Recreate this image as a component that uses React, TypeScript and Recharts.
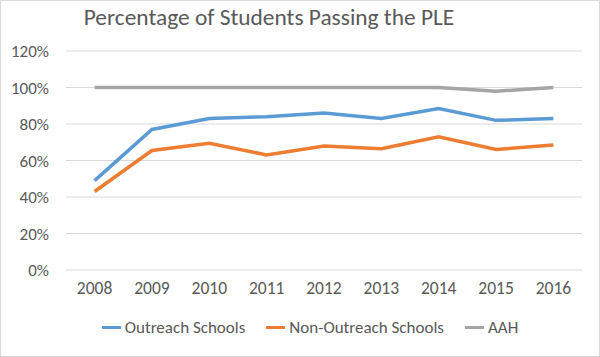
import { LineChart, Line, XAxis, YAxis, CartesianGrid, Legend } from "recharts";

const years = ["2008", "2009", "2010", "2011", "2012", "2013", "2014", "2015", "2016"];
const outreach = [49, 77, 83, 84, 86, 83, 88.5, 82, 83];
const nonOutreach = [43, 65.5, 69.5, 63, 68, 66.5, 73, 66, 68.5];
const aah = [100, 100, 100, 100, 100, 100, 100, 98, 100];
const yTicks = [0, 20, 40, 60, 80, 100, 120];

const SERIES = [
  { key: "outreach", name: "Outreach Schools", color: "#5B9BD5" },
  { key: "nonOutreach", name: "Non-Outreach Schools", color: "#ED7D31" },
  { key: "aah", name: "AAH", color: "#A5A5A5" },
];

const FONT = "Carlito, 'Liberation Sans Narrow', 'Arial Narrow', 'Liberation Sans', sans-serif";
const TEXT = "#595959";

const data = years.map((year, i) => ({
  year,
  outreach: outreach[i],
  nonOutreach: nonOutreach[i],
  aah: aah[i],
}));

function LegendRow() {
  return (
    <div style={{ display: "flex", justifyContent: "center", gap: 21, fontFamily: FONT, fontSize: 17, color: TEXT, paddingLeft: 20 }}>
      {SERIES.map((s) => (
        <div key={s.key} style={{ display: "flex", alignItems: "center", gap: 4 }}>
          <span style={{ display: "inline-block", width: 19, height: 3, background: s.color }} />
          <span>{s.name}</span>
        </div>
      ))}
    </div>
  );
}

export default function App() {
  return (
    <div
      style={{
        position: "absolute",
        left: 0,
        top: 0,
        width: 600,
        height: 357,
        boxSizing: "border-box",
        border: "1px solid #D9D9D9",
        background: "#fff",
        overflow: "hidden",
      }}
    >
      <div
        style={{
          position: "absolute",
          left: 0,
          width: 536,
          top: 2,
          textAlign: "center",
          fontFamily: FONT,
          fontSize: 23.4,
          color: TEXT,
        }}
      >
        Percentage of Students Passing the PLE
      </div>
      <LineChart width={598} height={355} data={data} margin={{ top: 50, right: 17, left: 0, bottom: 56 }}>
        <CartesianGrid horizontal vertical={false} stroke="#D9D9D9" strokeWidth={1} />
        <XAxis
          dataKey="year"
          axisLine={false}
          tickLine={false}
          tickSize={0}
          tickMargin={12}
          height={30}
          padding={{ left: 28.6, right: 28.6 }}
          tick={{ fill: TEXT, fontSize: 17.5, fontFamily: FONT }}
        />
        <YAxis
          domain={[0, 120]}
          ticks={yTicks}
          interval={0}
          axisLine={false}
          tickLine={false}
          tickSize={0}
          tickMargin={17}
          width={65}
          tickFormatter={(v: number) => `${v}%`}
          tick={{ fill: TEXT, fontSize: 17, fontFamily: FONT }}
        />
        {SERIES.map((s) => (
          <Line
            key={s.key}
            type="linear"
            dataKey={s.key}
            name={s.name}
            stroke={s.color}
            strokeWidth={3.5}
            dot={false}
            activeDot={false}
            isAnimationActive={false}
          />
        ))}
        <Legend
          layout="horizontal"
          verticalAlign="middle"
          align="center"
          wrapperStyle={{ position: "absolute", top: 316, left: 0, width: 598 }}
          content={() => <LegendRow />}
        />
      </LineChart>
    </div>
  );
}
